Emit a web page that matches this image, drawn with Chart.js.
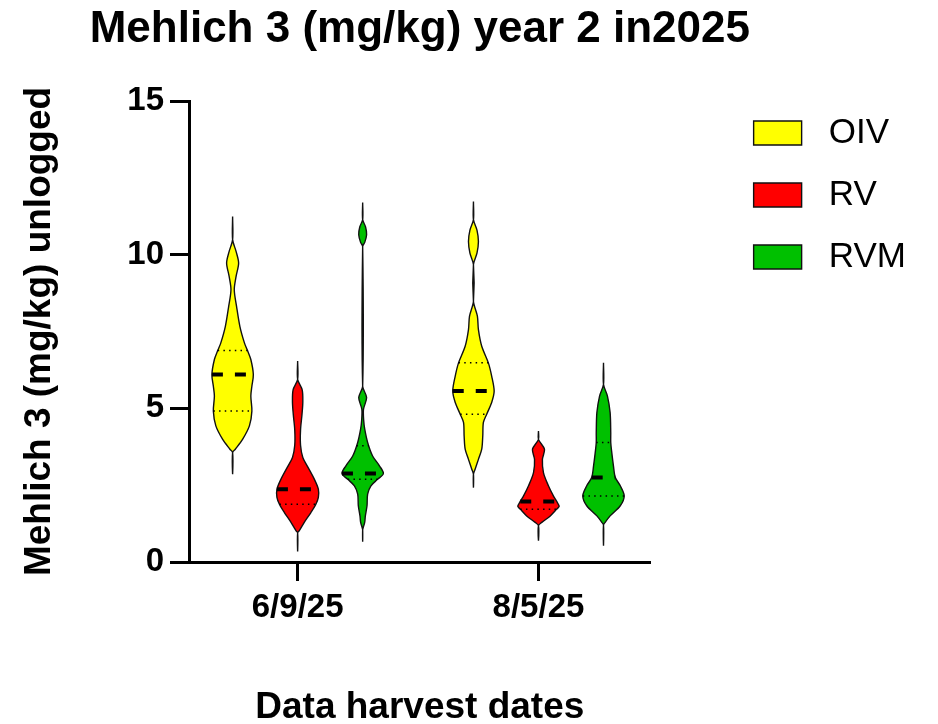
<!DOCTYPE html>
<html><head><meta charset="utf-8">
<script src="https://cdn.jsdelivr.net/npm/chart.js@4"></script>
<style>html,body{margin:0;padding:0;background:#fff}</style>
</head><body>
<canvas id="c" width="938" height="724"></canvas>
<script>
// ---- data ----
const categories = ['6/9/25', '8/5/25'];
const treatments = ['OIV', 'RV', 'RVM'];
const treatmentColors = ['#FFFF00', '#FF0000', '#00C000'];
const yTickValues = [0, 5, 10, 15];

// violin outlines: levels (mg/kg, top to bottom) and relative density (0..1)
const OIV_0609_levels  = [11.24, 10.49, 10.1, 9.73, 9.3, 8.86, 8.32, 7.67, 7.13, 6.88, 6.59, 6.10, 5.72, 5.40, 4.91, 4.43, 3.99, 3.67, 3.56, 2.86];
const OIV_0609_density = [0, 0, 0.17, 0.29, 0.17, 0.08, 0.19, 0.35, 0.57, 0.72, 0.88, 1.00, 0.93, 0.88, 0.93, 0.81, 0.48, 0.13, 0, 0];
const RV_0609_levels   = [6.54, 5.94, 5.6, 5.2, 4.8, 4.3, 3.8, 3.4, 3.13, 2.69, 2.37, 2.10, 1.88, 1.61, 1.29, 1.02, 0.95, 0.34];
const RV_0609_density  = [0, 0, 0.22, 0.25, 0.21, 0.14, 0.14, 0.25, 0.46, 0.81, 1.00, 1.00, 0.88, 0.64, 0.32, 0.08, 0, 0];
const RVM_0609_levels  = [11.70, 11.14, 10.9, 10.65, 10.4, 10.27, 5.72, 5.35, 4.97, 4.6, 4.32, 3.89, 3.45, 3.13, 2.88, 2.69, 2.48, 2.21, 1.83, 1.50, 1.30, 1.13, 1.05, 0.66];
const RVM_0609_density = [0, 0, 0.14, 0.19, 0.10, 0, 0, 0.19, 0.04, 0.05, 0.10, 0.24, 0.48, 0.81, 1.00, 0.72, 0.40, 0.24, 0.21, 0.13, 0.10, 0.03, 0, 0];
const OIV_0805_levels  = [11.73, 11.14, 10.8, 10.43, 10.05, 9.68, 8.48, 8.00, 7.56, 7.02, 6.48, 6.05, 5.56, 5.19, 4.81, 4.54, 4.10, 3.67, 3.34, 3.02, 2.86, 2.42];
const OIV_0805_density = [0, 0, 0.17, 0.24, 0.17, 0, 0, 0.19, 0.24, 0.40, 0.72, 0.88, 1.00, 0.88, 0.64, 0.48, 0.45, 0.40, 0.24, 0.08, 0, 0];
const RV_0805_levels   = [4.26, 3.99, 3.67, 3.34, 2.91, 2.48, 2.15, 1.97, 1.81, 1.72, 1.50, 1.29, 1.18, 0.69];
const RV_0805_density  = [0, 0, 0.29, 0.19, 0.24, 0.48, 0.72, 0.88, 1.00, 0.88, 0.57, 0.16, 0, 0];
const RVM_0805_levels  = [6.48, 5.78, 5.40, 4.86, 4.21, 3.89, 3.56, 3.13, 2.75, 2.48, 2.15, 1.83, 1.50, 1.29, 1.20, 0.53];
const RVM_0805_density = [0, 0, 0.19, 0.32, 0.35, 0.35, 0.40, 0.48, 0.57, 0.81, 1.00, 0.81, 0.32, 0.08, 0, 0];

// medians and quartiles (OIV, RV, RVM)
const median_0609 = [6.10, 2.37, 2.88];
const q1_0609     = [4.91, 1.88, 2.69];
const q3_0609     = [6.88, null, 3.78];
const median_0805 = [5.56, 1.97, 2.75];
const q1_0805     = [4.81, 1.72, 2.15];
const q3_0805     = [6.48, null, 3.89];

// ---- layout constants ----
const VIOLIN_HALF = 0.086;
const TREAT_OFFSET = [-0.27, 0, 0.27];
const FONT = '"Liberation Sans", Arial, sans-serif';

const groups = [
  {pos: 1, profiles: [[OIV_0609_levels, OIV_0609_density], [RV_0609_levels, RV_0609_density], [RVM_0609_levels, RVM_0609_density]], med: median_0609, q1: q1_0609, q3: q3_0609},
  {pos: 2, profiles: [[OIV_0805_levels, OIV_0805_density], [RV_0805_levels, RV_0805_density], [RVM_0805_levels, RVM_0805_density]], med: median_0805, q1: q1_0805, q3: q3_0805}
];

function violinPoints(cx, levels, dens) {
  const right = levels.map((v, i) => ({x: cx + dens[i] * VIOLIN_HALF, y: v}));
  const left = levels.map((v, i) => ({x: cx - dens[i] * VIOLIN_HALF, y: v})).reverse().slice(1);
  return right.concat(left);
}
function halfWidthAt(levels, dens, v) {
  for (let i = 0; i < levels.length - 1; i++) {
    if (levels[i] >= v && v >= levels[i + 1]) {
      const t = (levels[i] - v) / (levels[i] - levels[i + 1]);
      return (dens[i] + t * (dens[i + 1] - dens[i])) * VIOLIN_HALF;
    }
  }
  return 0;
}
function hLine(cx, levels, dens, v, width, dash) {
  const hw = halfWidthAt(levels, dens, v);
  return {data: [{x: cx - hw, y: v}, {x: cx + hw, y: v}], borderColor: '#000', borderWidth: width,
    borderDash: dash, borderCapStyle: 'butt', pointRadius: 0, fill: false, order: 1, tension: 0};
}

const datasets = [];
groups.forEach((g, gi) => {
  g.profiles.forEach(([lv, dn], ti) => {
    const cx = g.pos + TREAT_OFFSET[ti];
    datasets.push({label: ' ' + treatments[ti], inLegend: gi === 0, data: violinPoints(cx, lv, dn),
      borderColor: '#111', borderWidth: 1.4, backgroundColor: treatmentColors[ti], fill: 'shape',
      pointRadius: 0, tension: 0.3, order: 2});
  });
});
groups.forEach((g) => {
  g.profiles.forEach(([lv, dn], ti) => {
    const cx = g.pos + TREAT_OFFSET[ti];
    datasets.push(hLine(cx, lv, dn, g.med[ti], 4, [11, 12]));
    datasets.push(hLine(cx, lv, dn, g.q1[ti], 1.5, [1.5, 4.2]));
    if (g.q3[ti] !== null) datasets.push(hLine(cx, lv, dn, g.q3[ti], 1.5, [1.5, 4.2]));
  });
});

const axisGrid = {display: true, drawOnChartArea: false, drawTicks: true, tickLength: 19, tickWidth: 3, tickColor: '#000', color: '#000'};
const axisBorder = {display: true, color: '#000', width: 3};

// centre the title over the plot area (as in the reference) without squeezing it
const centerTitle = {
  id: 'centerTitle',
  afterLayout(chart) {
    const t = chart.titleBlock;
    if (!t) return;
    const c = (chart.chartArea.left + chart.chartArea.right) / 2;
    t.left = c - 420; t.right = c + 420; t.width = 840;
  }
};

new Chart(document.getElementById('c'), {
  type: 'line',
  data: {datasets},
  plugins: [centerTitle],
  options: {
    responsive: false, animation: false, devicePixelRatio: 1,
    layout: {padding: {left: 0, right: 22, top: 0, bottom: 0}},
    plugins: {
      tooltip: {enabled: false},
      title: {display: true, text: 'Mehlich 3 (mg/kg) year 2 in2025', color: '#000',
        font: {family: FONT, size: 44, weight: 'bold'}, padding: {top: 3, bottom: 45.2}},
      legend: {position: 'right', align: 'start', maxWidth: 260,
        title: {display: true, text: ' ', font: {size: 10}, padding: {top: 76.5, bottom: 0}},
        labels: {boxWidth: 48, boxHeight: 24, padding: 27, color: '#000', font: {family: FONT, size: 35},
          filter: (item, data) => data.datasets[item.datasetIndex].inLegend === true}}
    },
    scales: {
      x: {type: 'linear', min: 0.5489, max: 2.4657,
        afterBuildTicks: (s) => { s.ticks = [1, 2].map(v => ({value: v})); },
        ticks: {callback: (v) => categories[Math.round(v) - 1], autoSkip: false, maxRotation: 0,
          color: '#000', padding: 7, font: {family: FONT, size: 33, weight: 'bold'}},
        grid: axisGrid, border: axisBorder,
        title: {display: true, text: 'Data harvest dates', color: '#000',
          font: {family: FONT, size: 37, weight: 'bold', lineHeight: 0.9}, padding: {top: 0, bottom: 0}},
        afterFit: (s) => { s.height = 162; }
      },
      y: {type: 'linear', min: 0, max: 15,
        afterBuildTicks: (s) => { s.ticks = yTickValues.map(v => ({value: v})); },
        ticks: {color: '#000', padding: 6, font: {family: FONT, size: 33, weight: 'bold'}},
        grid: axisGrid, border: axisBorder,
        title: {display: true, text: 'Mehlich 3 (mg/kg) unlogged', color: '#000',
          font: {family: FONT, size: 37, weight: 'bold'}, padding: {top: 18, bottom: 0}},
        afterFit: (s) => { s.width = 189; }
      },
      gap: {type: 'linear', position: 'right', display: true, ticks: {display: false},
        grid: {display: false}, border: {display: false}, afterFit: (s) => { s.width = 76; }}
    }
  }
});
</script>
</body></html>
